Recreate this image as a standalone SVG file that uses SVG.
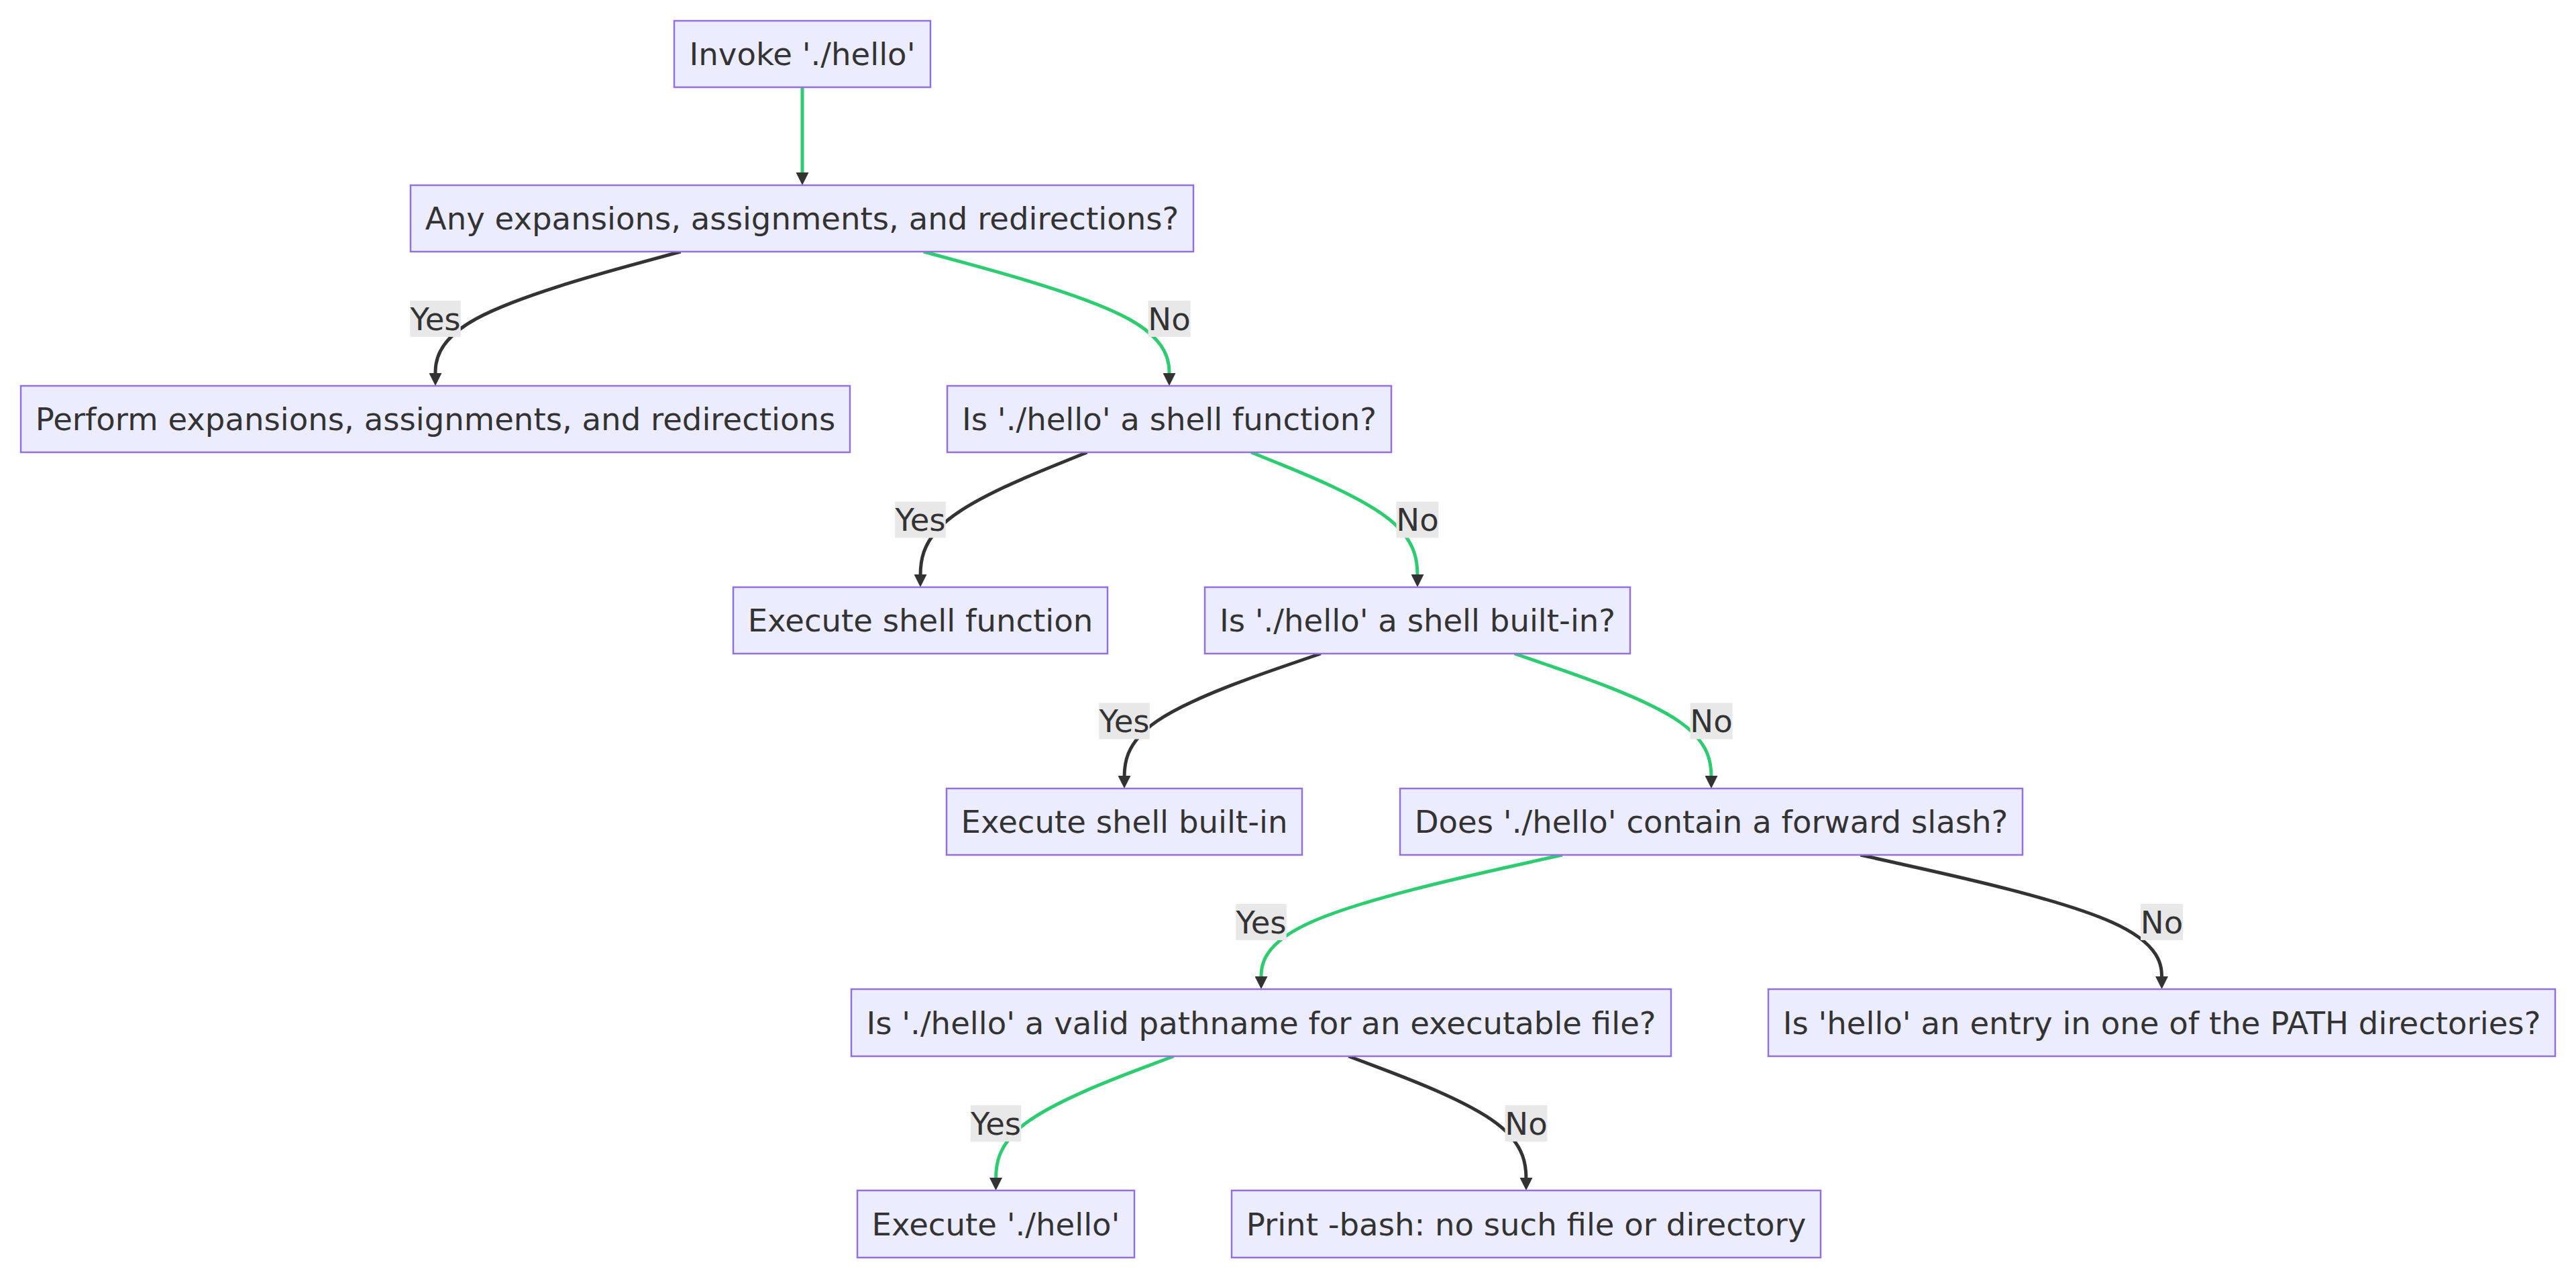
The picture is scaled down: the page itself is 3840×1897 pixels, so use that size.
<svg xmlns="http://www.w3.org/2000/svg" width="3840" height="1897" viewBox="0 0 3840 1897">
<style>
.node rect{fill:#ECECFF;stroke:#9370DB;stroke-width:2.5}
text{font-family:"DejaVu Sans","Liberation Sans",sans-serif;font-size:46.6px;fill:#333;text-anchor:middle}
.e{fill:none;stroke-width:5}
.g{stroke:#2ecc71}
.d{stroke:#333333}
.lbl rect{fill:#e8e8e8}
</style>
<defs>
<marker id="arr" markerUnits="userSpaceOnUse" markerWidth="19" markerHeight="19" viewBox="0 0 19 19" refX="9" refY="9.5" orient="auto">
<path d="M0,0 L19,9.5 L0,19 z" fill="#333"/>
</marker>
</defs>
<rect width="3840" height="1897" fill="#ffffff"/>
<g id="edges">
<path class="e g" marker-end="url(#arr)" d="M1196,130 L1196,266"/>
<path class="e d" marker-end="url(#arr)" d="M1014.6,375 L953.7,391.7 C892.7,408.3 770.9,441.7 709.9,475 C649,508.3 649,541.7 649,558.3 L649,565"/>
<path class="e g" marker-end="url(#arr)" d="M1376.8,375 L1437.8,391.7 C1498.9,408.3 1620.9,441.7 1682,475 C1743,508.3 1743,541.7 1743,558.3 L1743,565"/>
<path class="e d" marker-end="url(#arr)" d="M1620.6,674 L1579.2,690.75 C1537.7,707.5 1454.9,741 1413.4,774.5 C1372,808 1372,841.5 1372,858.25 L1372,865"/>
<path class="e g" marker-end="url(#arr)" d="M1865.1,674 L1906.4,690.75 C1947.7,707.5 2030.4,741 2071.7,774.5 C2113,808 2113,841.5 2113,858.25 L2113,865"/>
<path class="e d" marker-end="url(#arr)" d="M1968.8,974 L1920,990.75 C1871.2,1007.5 1773.6,1041 1724.8,1074.5 C1676,1108 1676,1141.5 1676,1158.25 L1676,1165"/>
<path class="e g" marker-end="url(#arr)" d="M2257.5,974 L2306.4,990.75 C2355.3,1007.5 2453.2,1041 2502.1,1074.5 C2551,1108 2551,1141.5 2551,1158.25 L2551,1165"/>
<path class="e g" marker-end="url(#arr)" d="M2328.8,1274 L2254,1290.7 C2179.2,1307.3 2029.6,1340.7 1954.8,1374 C1880,1407.3 1880,1440.7 1880,1457.3 L1880,1464"/>
<path class="e d" marker-end="url(#arr)" d="M2773.3,1274 L2848.2,1290.7 C2923,1307.3 3072.8,1340.7 3147.6,1374 C3222.5,1407.3 3222.5,1440.7 3222.5,1457.3 L3222.5,1464"/>
<path class="e g" marker-end="url(#arr)" d="M1749.5,1574 L1705.3,1590.7 C1661.2,1607.3 1572.8,1640.7 1528.7,1674 C1484.5,1707.3 1484.5,1740.7 1484.5,1757.3 L1484.5,1764"/>
<path class="e d" marker-end="url(#arr)" d="M2010.4,1574 L2054.5,1590.7 C2098.6,1607.3 2186.8,1640.7 2230.9,1674 C2275,1707.3 2275,1740.7 2275,1757.3 L2275,1764"/>
</g>
<g id="edge-labels">
<g class="lbl"><rect x="611.25" y="448" width="75.5" height="54"/><text x="649" y="491.5">Yes</text></g>
<g class="lbl"><rect x="1711.5" y="448" width="63" height="54"/><text x="1743" y="491.5">No</text></g>
<g class="lbl"><rect x="1334.25" y="747.5" width="75.5" height="54"/><text x="1372" y="791">Yes</text></g>
<g class="lbl"><rect x="2081.5" y="747.5" width="63" height="54"/><text x="2113" y="791">No</text></g>
<g class="lbl"><rect x="1638.25" y="1047.5" width="75.5" height="54"/><text x="1676" y="1091">Yes</text></g>
<g class="lbl"><rect x="2519.5" y="1047.5" width="63" height="54"/><text x="2551" y="1091">No</text></g>
<g class="lbl"><rect x="1842.25" y="1347" width="75.5" height="54"/><text x="1880" y="1390.5">Yes</text></g>
<g class="lbl"><rect x="3191" y="1347" width="63" height="54"/><text x="3222.5" y="1390.5">No</text></g>
<g class="lbl"><rect x="1446.75" y="1647" width="75.5" height="54"/><text x="1484.5" y="1690.5">Yes</text></g>
<g class="lbl"><rect x="2243.5" y="1647" width="63" height="54"/><text x="2275" y="1690.5">No</text></g>
</g>
<g id="n-invoke" class="node"><rect x="1005" y="31" width="382" height="99"/><text x="1196" y="97">Invoke './hello'</text></g>
<g id="n-any" class="node"><rect x="612" y="276" width="1167" height="99"/><text x="1195.5" y="342">Any expansions, assignments, and redirections?</text></g>
<g id="n-perform" class="node"><rect x="31" y="575" width="1236" height="99"/><text x="649" y="641">Perform expansions, assignments, and redirections</text></g>
<g id="n-func" class="node"><rect x="1412" y="575" width="662" height="99"/><text x="1743" y="641">Is './hello' a shell function?</text></g>
<g id="n-execfunc" class="node"><rect x="1093" y="875" width="558" height="99"/><text x="1372" y="941">Execute shell function</text></g>
<g id="n-builtin" class="node"><rect x="1796" y="875" width="634" height="99"/><text x="2113" y="941">Is './hello' a shell built-in?</text></g>
<g id="n-execbuiltin" class="node"><rect x="1411" y="1175" width="530" height="99"/><text x="1676" y="1241">Execute shell built-in</text></g>
<g id="n-slash" class="node"><rect x="2087" y="1175" width="928" height="99"/><text x="2551" y="1241">Does './hello' contain a forward slash?</text></g>
<g id="n-valid" class="node"><rect x="1269" y="1474" width="1222" height="100"/><text x="1880" y="1540.5">Is './hello' a valid pathname for an executable file?</text></g>
<g id="n-path" class="node"><rect x="2636" y="1474" width="1173" height="100"/><text x="3222.5" y="1540.5">Is 'hello' an entry in one of the PATH directories?</text></g>
<g id="n-exechello" class="node"><rect x="1278" y="1774" width="413" height="100"/><text x="1484.5" y="1840.5">Execute './hello'</text></g>
<g id="n-print" class="node"><rect x="1836" y="1774" width="878" height="100"/><text x="2275" y="1840.5">Print -bash: no such file or directory</text></g>
</svg>
